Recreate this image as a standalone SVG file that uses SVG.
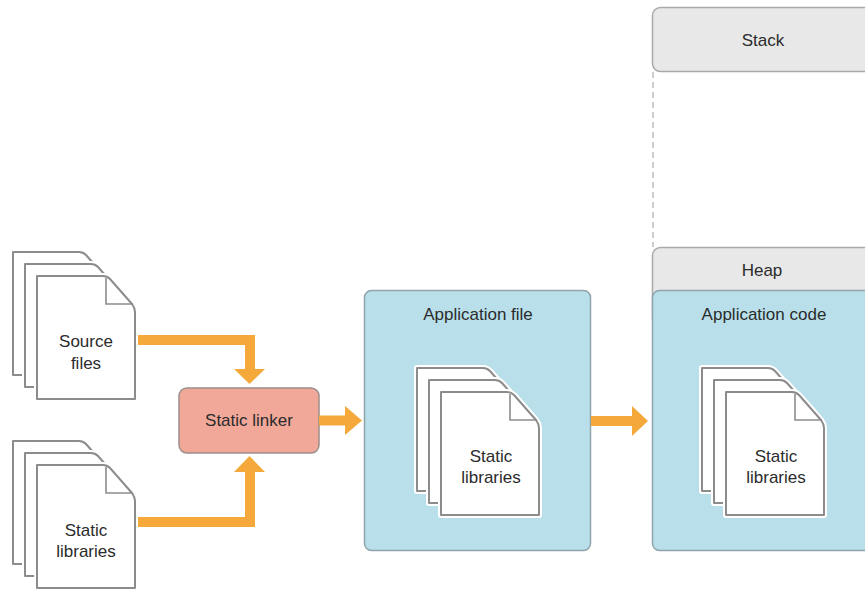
<svg xmlns="http://www.w3.org/2000/svg" width="865" height="590" viewBox="0 0 865 590">
<defs>
<style>
text{font-family:"Liberation Sans",Arial,sans-serif;font-size:17px;fill:#2b2b2b;text-anchor:middle}
.pg{fill:#fff;stroke:#8c8c8c;stroke-width:2;stroke-linejoin:round}
.halo{fill:#fff;stroke:#fff;stroke-width:6;stroke-linejoin:round}
.fold{fill:none;stroke:#8c8c8c;stroke-width:1.6}
.blue{fill:#b9e0ea;stroke:#8fa4ab;stroke-width:1.5}
.gray{fill:#e8e8e8;stroke:#a9a9a9;stroke-width:1.5}
.bar{fill:none;stroke:#f5a93a;stroke-width:10}
.head{fill:#f5a93a}
</style>
<path id="page" d="M0,0 H66 Q70,0 73,3 L95,28 Q98,32 98,36 V123 H0 Z"/>
<g id="stack">
<use href="#page" class="halo"/>
<use href="#page" class="pg"/>
<use href="#page" x="12" y="12" class="halo"/>
<use href="#page" x="12" y="12" class="pg"/>
<use href="#page" x="24" y="24" class="halo"/>
<use href="#page" x="24" y="24" class="pg"/>
<path d="M93,26 V52 H120" class="fold"/>
</g>
</defs>
<rect width="865" height="590" fill="#fff"/>

<g id="source-files">
<use href="#stack" x="13" y="252"/>
<text x="86" y="347">Source</text>
<text x="86" y="369">files</text>
</g>

<g id="static-libraries-input">
<use href="#stack" x="13" y="441"/>
<text x="86" y="536">Static</text>
<text x="86" y="557">libraries</text>
</g>

<g id="static-linker">
<rect x="179" y="388" width="140" height="65" rx="8" fill="#f2a899" stroke="#9a8f8c" stroke-width="1.5"/>
<text x="249" y="426">Static linker</text>
</g>

<g id="application-file">
<rect x="364.5" y="290.5" width="226" height="260" rx="7" class="blue"/>
<text x="478" y="320">Application file</text>
<use href="#stack" x="417" y="368"/>
<text x="491" y="462">Static</text>
<text x="491" y="483">libraries</text>
</g>

<g id="stack-region">
<rect x="652.5" y="7.5" width="240" height="64" rx="8" class="gray"/>
<text x="763" y="46">Stack</text>
</g>

<g id="heap">
<rect x="652.5" y="247.5" width="240" height="80" rx="8" class="gray"/>
<text x="762" y="276">Heap</text>
</g>

<g id="application-code">
<rect x="652.5" y="290.5" width="240" height="260" rx="7" class="blue"/>
<text x="764" y="320">Application code</text>
<use href="#stack" x="702" y="368"/>
<text x="776" y="462">Static</text>
<text x="776" y="483">libraries</text>
</g>

<g id="connectors">
<line x1="653" y1="72" x2="653" y2="247" stroke="#bdbdbd" stroke-width="1.5" stroke-dasharray="6,4"/>
<path d="M138,340 H250 V371" class="bar"/>
<polygon points="234,369 265,369 249.5,384" class="head"/>
<path d="M138,522 H250 V470" class="bar"/>
<polygon points="234,472 265,472 249.5,456" class="head"/>
<path d="M319,420.5 H347" class="bar"/>
<polygon points="345,406 345,435 362,420.5" class="head"/>
<path d="M591,421 H634" class="bar"/>
<polygon points="632,406 632,436 648,421" class="head"/>
</g>
</svg>
